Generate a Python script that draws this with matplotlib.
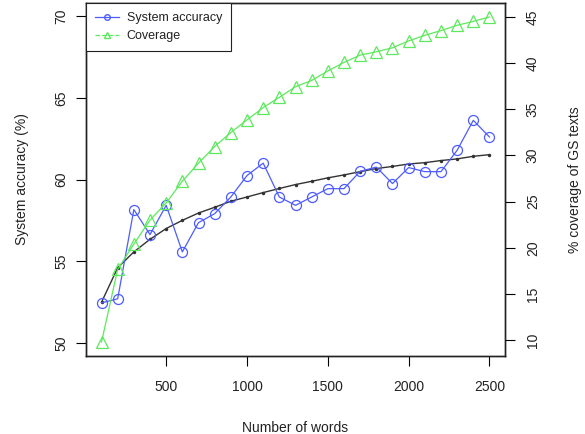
import matplotlib
matplotlib.use("Agg")
import matplotlib.pyplot as plt
from matplotlib.lines import Line2D

plt.rcParams["font.family"] = ["Liberation Sans", "DejaVu Sans"]

# number of words sampled from the GS texts
words = [100, 200, 300, 400, 500, 600, 700, 800, 900, 1000, 1100, 1200, 1300,
         1400, 1500, 1600, 1700, 1800, 1900, 2000, 2100, 2200, 2300, 2400, 2500]
accuracy = [52.45, 52.7, 58.16, 56.63, 58.42, 55.57, 57.36, 57.91, 58.93, 60.24,
            61.0, 58.93, 58.42, 58.93, 59.44, 59.44, 60.5, 60.76, 59.75, 60.73,
            60.48, 60.48, 61.79, 63.62, 62.6]
fitted = [52.49, 54.6, 55.57, 56.34, 57.0, 57.5, 57.95, 58.3, 58.67, 58.93,
          59.2, 59.45, 59.69, 59.89, 60.1, 60.28, 60.48, 60.67, 60.8, 60.95,
          61.03, 61.16, 61.26, 61.42, 61.52]
coverage = [9.8, 17.66, 20.4, 23.0, 24.85, 27.2, 29.16, 30.96, 32.47, 33.84,
            35.17, 36.28, 37.43, 38.11, 39.13, 40.06, 40.85, 41.21, 41.64, 42.39,
            43.0, 43.5, 44.08, 44.5, 44.98]

BLUE = "#4d5cff"
GREEN = "#5ee85e"
TXT = "#222222"

fig = plt.figure(figsize=(5.85, 4.34), dpi=100)
ax = fig.add_axes([86 / 585, 78 / 434, 419 / 585, 353 / 434])
ax2 = ax.twinx()

ax.plot(words, fitted, color="#333333", lw=1.0, marker=".", ms=3, zorder=2)
ax.plot(words, accuracy, color=BLUE, lw=0.9, marker="o", ms=7.2,
        mfc="none", mec=BLUE, mew=0.9, zorder=3)
ax2.plot(words, coverage, color=GREEN, lw=0.9, marker="^", ms=8.2,
         mfc="none", mec=GREEN, mew=0.9)

ax.set_xlim(4, 2596)
ax.set_ylim(49.2, 70.8)
ax2.set_ylim(8.29, 46.49)
ax.set_xticks([500, 1000, 1500, 2000, 2500])
ax.set_yticks([50, 55, 60, 65, 70])
ax2.set_yticks([10, 15, 20, 25, 30, 35, 40, 45])

for a in (ax, ax2):
    for s in a.spines.values():
        s.set_linewidth(1.0)
        s.set_color("#222222")
ax.tick_params(axis="x", length=7, width=0.8, pad=10, labelsize=10,
               labelcolor=TXT)
ax.tick_params(axis="y", length=7, width=0.8, pad=6, labelsize=10,
               labelcolor=TXT, labelrotation=90)
ax2.tick_params(axis="y", length=7, width=0.8, pad=8, labelsize=10,
                labelcolor=TXT, labelrotation=90)
for lab in ax.get_yticklabels() + ax2.get_yticklabels():
    lab.set_va("center")

ax.set_xlabel("Number of words", fontsize=10, color=TXT, labelpad=20)
ax.set_ylabel("System accuracy (%)", fontsize=10, color=TXT, labelpad=18)
ax2.set_ylabel("% coverage of GS texts", fontsize=10, color=TXT, labelpad=20)

handles = [
    Line2D([], [], color=BLUE, lw=0.9, marker="o", ms=4, mfc="none", mec=BLUE),
    Line2D([], [], color=GREEN, lw=0.9, ls="--", marker="^", ms=5, mfc="none",
           mec=GREEN),
]
leg = ax2.legend(handles, ["System accuracy", "Coverage"], loc="upper left",
                 bbox_to_anchor=(0, 1), borderaxespad=0, fancybox=False,
                 framealpha=1, edgecolor="#222222", fontsize=9,
                 handlelength=1.9, handletextpad=0.6, borderpad=0.75,
                 labelspacing=0.45)
leg.get_frame().set_linewidth(0.8)
for t in leg.get_texts():
    t.set_color(TXT)

fig.savefig("out.png", dpi=100)
